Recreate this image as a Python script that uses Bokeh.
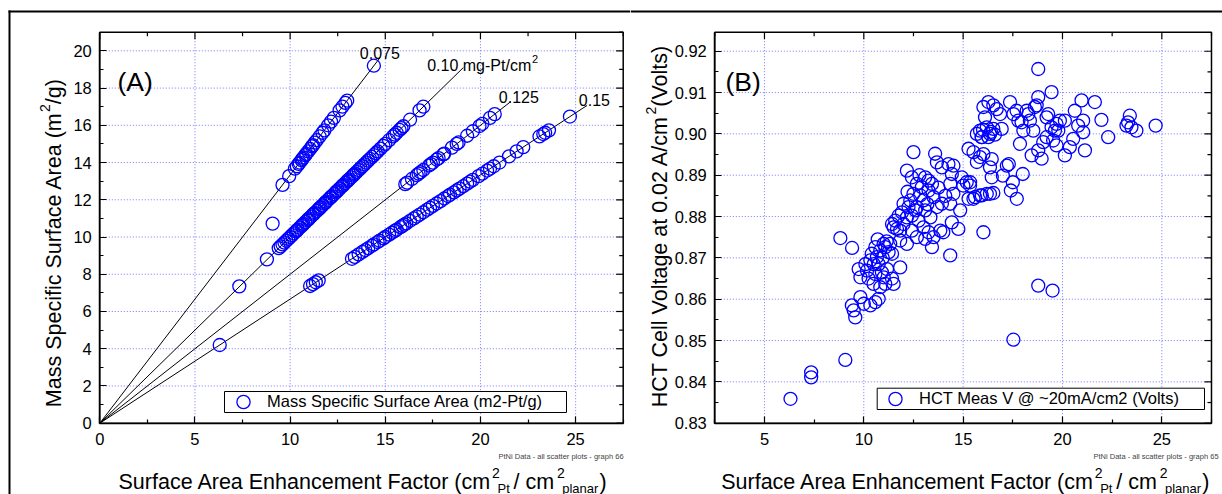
import math
from bokeh.plotting import figure
from bokeh.models import (FixedTicker, LinearAxis, Label, BoxAnnotation, Legend,
                          LegendItem, Range1d, NumeralTickFormatter)
from bokeh.layouts import row
from bokeh.embed import file_html
from bokeh.resources import INLINE

# ---------------- data: panel A (mass specific surface area vs SEF) -------------
sef_a_075 = [9.6, 9.95, 10.25, 10.35, 10.45, 10.5, 10.6, 10.65, 10.7, 10.8, 10.85, 10.95,
             11.05, 11.15, 11.2, 11.3, 11.4, 11.55, 11.7, 11.8, 12.0, 12.15, 12.3, 12.6,
             12.75, 12.9, 13.0, 14.4]
msa_a_075 = [12.8, 13.27, 13.67, 13.8, 13.93, 14.0, 14.13, 14.2, 14.27, 14.4, 14.47, 14.6,
             14.73, 14.87, 14.93, 15.07, 15.2, 15.4, 15.6, 15.73, 16.0, 16.2, 16.4, 16.8,
             17.0, 17.2, 17.33, 19.2]
sef_a_other = [9.08]
msa_a_other = [10.72]
sef_a_100 = [7.33, 8.78, 9.4, 9.5, 9.6, 9.7, 9.8, 9.9, 10.0, 10.1, 10.2, 10.3, 10.35, 10.4,
             10.5, 10.6, 10.65, 10.7, 10.8, 10.9, 10.95, 11.0, 11.1, 11.2, 11.25, 11.3, 11.4,
             11.5, 11.55, 11.6, 11.7, 11.8, 11.85, 11.9, 12.0, 12.1, 12.15, 12.2, 12.3, 12.4,
             12.45, 12.5, 12.6, 12.7, 12.75, 12.8, 12.9, 13.0, 13.05, 13.1, 13.2, 13.3, 13.35,
             13.4, 13.5, 13.6, 13.7, 13.8, 13.9, 14.0, 14.1, 14.2, 14.3, 14.4, 14.5, 14.6,
             14.75, 14.9, 15.0, 15.2, 15.4, 15.5, 15.6, 15.75, 15.85, 15.95, 16.3, 16.8, 17.0]
msa_a_100 = [7.35, 8.8, 9.4, 9.5, 9.6, 9.7, 9.8, 9.9, 10.0, 10.1, 10.2, 10.3, 10.35, 10.4,
             10.5, 10.6, 10.65, 10.7, 10.8, 10.9, 10.95, 11.0, 11.1, 11.2, 11.25, 11.3, 11.4,
             11.5, 11.55, 11.6, 11.7, 11.8, 11.85, 11.9, 12.0, 12.1, 12.15, 12.2, 12.3, 12.4,
             12.45, 12.5, 12.6, 12.7, 12.75, 12.8, 12.9, 13.0, 13.05, 13.1, 13.2, 13.3, 13.35,
             13.4, 13.5, 13.6, 13.7, 13.8, 13.9, 14.0, 14.1, 14.2, 14.3, 14.4, 14.5, 14.6,
             14.75, 14.9, 15.0, 15.2, 15.4, 15.5, 15.6, 15.75, 15.85, 15.95, 16.3, 16.8, 17.0]
sef_a_125 = [16.05, 16.15, 16.4, 16.65, 16.75, 16.85, 17.0, 17.3, 17.4, 17.5, 17.7, 17.8,
             18.05, 18.1, 18.5, 18.75, 18.85, 19.3, 19.6, 19.95, 20.1, 20.5, 20.75]
msa_a_125 = [12.84, 12.92, 13.12, 13.32, 13.4, 13.48, 13.6, 13.84, 13.92, 14.0, 14.16, 14.24,
             14.44, 14.48, 14.8, 15.0, 15.08, 15.44, 15.68, 15.96, 16.08, 16.4, 16.6]
sef_a_150 = [6.3, 11.05, 11.2, 11.35, 11.5, 13.25, 13.4, 13.6, 13.8, 13.95, 14.1, 14.3, 14.4,
             14.6, 14.7, 14.9, 15.0, 15.2, 15.35, 15.5, 15.6, 15.8, 15.9, 16.0, 16.1, 16.3,
             16.5, 16.65, 16.8, 17.0, 17.2, 17.35, 17.5, 17.7, 17.9, 18.1, 18.3, 18.4, 18.6,
             18.75, 18.9, 19.1, 19.3, 19.45, 19.6, 19.9, 20.1, 20.35, 20.5, 20.7, 21.0, 21.5,
             21.9, 22.25, 23.1, 23.3, 23.4, 23.6, 24.7]
msa_a_150 = [4.2, 7.37, 7.47, 7.57, 7.67, 8.83, 8.93, 9.07, 9.2, 9.3, 9.4, 9.53, 9.6, 9.73,
             9.8, 9.93, 10.0, 10.13, 10.23, 10.33, 10.4, 10.53, 10.6, 10.67, 10.73, 10.87,
             11.0, 11.1, 11.2, 11.33, 11.47, 11.57, 11.67, 11.8, 11.93, 12.07, 12.2, 12.27,
             12.4, 12.5, 12.6, 12.73, 12.87, 12.97, 13.07, 13.27, 13.4, 13.57, 13.67, 13.8,
             14.0, 14.33, 14.6, 14.83, 15.4, 15.53, 15.6, 15.73, 16.47]

# loading guide lines (mg-Pt/cm2) and where each drawn line ends (SEF)
loadings = [0.075, 0.10, 0.125, 0.15]
line_end_sef = [14.73, 19.1, 21.6, 25.6]

# ---------------- data: panel B (HCT voltage vs SEF) ----------------------------
sef_b = [6.31, 7.35, 7.35, 9.07, 8.82, 9.41, 9.40, 9.57, 9.49,
         9.83, 10.00, 10.33, 10.58, 10.75, 9.83, 9.74, 10.16, 10.08, 10.33, 10.24, 10.58,
         10.49, 10.83, 11.00, 11.08, 11.50, 11.42, 11.17, 10.75, 10.66, 10.58, 10.83, 11.08,
         11.25, 11.42, 11.00, 11.33, 11.83, 10.50, 10.91, 10.40, 10.95, 11.15, 10.70,
         11.42, 11.67, 11.58, 11.83, 11.83, 12.17, 12.00, 11.92, 12.00, 12.25, 12.42, 12.34,
         12.50, 12.67, 12.76, 13.00, 12.67, 13.09, 13.43, 13.26, 13.51, 13.85, 14.00, 13.35,
         13.09, 13.00, 12.84, 13.26, 13.51, 13.68, 13.93, 13.43, 13.09, 13.26, 12.92, 12.67,
         12.42, 12.17, 12.50, 13.59, 13.68, 13.93, 14.26, 14.51, 14.43, 14.35, 14.51, 14.35,
         14.43, 14.76, 14.35, 14.85, 14.93, 15.18, 15.35, 15.27, 15.52, 15.69, 15.85, 15.52,
         15.85, 16.19, 16.02, 15.85, 15.94, 16.02, 16.10, 16.19, 15.69, 16.27, 12.17, 11.75,
         11.50, 12.42, 12.20, 12.60, 12.80, 13.20, 13.75, 14.10, 15.01, 15.35, 15.27, 15.60,
         15.94, 16.35,
         16.52, 16.44, 16.35, 16.44, 16.02, 16.35, 16.52, 16.52, 16.69, 16.86, 16.94, 17.36,
         17.53, 17.78, 17.86, 18.03, 18.28, 18.36, 18.53, 18.61, 18.78, 18.78, 18.70, 18.45,
         18.95, 18.78, 19.03, 19.20, 19.28, 19.45, 19.53, 19.62, 19.70, 19.87, 19.70, 20.12,
         20.12, 20.37, 20.54, 20.62, 20.79, 20.96, 21.04, 21.04, 21.13, 21.63, 21.96, 22.30,
         23.22, 23.39, 23.30, 23.47, 23.72, 24.69, 17.20, 17.30, 17.00, 17.40, 17.70, 17.50,
         18.00, 18.78, 19.50, 17.53, 15.93, 16.27, 17.69, 17.94, 18.20, 19.20, 19.45, 19.79,
         16.00, 16.40, 16.60]
volt_b = [0.8359, 0.8423, 0.8411, 0.8453, 0.8748, 0.8724, 0.8585, 0.8556, 0.8573,
          0.8605, 0.8589, 0.8585, 0.8593, 0.8601, 0.8653, 0.8673, 0.8669, 0.8685, 0.8694,
          0.8650, 0.8661, 0.8637, 0.8629, 0.8653, 0.8637, 0.8637, 0.8650, 0.8673, 0.8685,
          0.8702, 0.8726, 0.8718, 0.8726, 0.8714, 0.8710, 0.8734, 0.8734, 0.8677, 0.8685,
          0.8665, 0.8710, 0.8700, 0.8740, 0.8745,
          0.8782, 0.8770, 0.8790, 0.8766, 0.8742, 0.8734, 0.8782, 0.8810, 0.8831, 0.8823,
          0.8802, 0.8839, 0.8855, 0.8823, 0.8790, 0.8774, 0.8750, 0.8746, 0.8726, 0.8762,
          0.8750, 0.8766, 0.8762, 0.8798, 0.8815, 0.8839, 0.8851, 0.8863, 0.8847, 0.8823,
          0.8831, 0.8879, 0.8895, 0.8887, 0.8871, 0.8879, 0.8895, 0.8911, 0.8956, 0.8952,
          0.8931, 0.8919, 0.8927, 0.8923, 0.8903, 0.8879, 0.8855, 0.8831, 0.8786, 0.8770,
          0.8706, 0.8815, 0.8895, 0.8883, 0.8875, 0.8964, 0.8956, 0.8932, 0.8944, 0.8843,
          0.8851, 0.8855, 0.8762, 0.9008, 0.8992, 0.9065, 0.9040, 0.9016, 0.9000, 0.9077,
          0.8798, 0.8802, 0.8774, 0.8766, 0.8860, 0.8815, 0.8900, 0.8830, 0.8870, 0.8850,
          0.8875, 0.8883, 0.8843, 0.8847, 0.8851, 0.8855,
          0.8857, 0.8895, 0.8919, 0.8939, 0.8951, 0.9000, 0.9012, 0.9069, 0.9060, 0.9048,
          0.9012, 0.9077, 0.9048, 0.9032, 0.8976, 0.9008, 0.9048, 0.9032, 0.9008, 0.9065,
          0.9089, 0.9157, 0.9069, 0.8948, 0.8940, 0.8960, 0.8980, 0.8992, 0.9048, 0.9101,
          0.8984, 0.9008, 0.9024, 0.9032, 0.8972, 0.8948, 0.9032, 0.8968, 0.8988, 0.9056,
          0.9020, 0.9081, 0.9032, 0.9004, 0.8960, 0.9077, 0.9034, 0.8992, 0.9020, 0.9044,
          0.9028, 0.9016, 0.9008, 0.9020, 0.8923, 0.8927, 0.8899, 0.8863, 0.8843, 0.8883,
          0.8903, 0.8633, 0.8621, 0.8502, 0.8992, 0.8992, 0.9056, 0.9028, 0.9056, 0.9040,
          0.9016, 0.9008, 0.9010, 0.9005, 0.8998]

xticks_a = [0, 5, 10, 15, 20, 25]
xminor_a = [2.5, 7.5, 12.5, 17.5, 22.5, 27.5]
yticks_a = [0, 2, 4, 6, 8, 10, 12, 14, 16, 18, 20]
yminor_a = [1, 3, 5, 7, 9, 11, 13, 15, 17, 19, 21]
xticks_b = [5, 10, 15, 20, 25]
xminor_b = [2.5, 7.5, 12.5, 17.5, 22.5, 27.5]
yticks_b = [0.83, 0.84, 0.85, 0.86, 0.87, 0.88, 0.89, 0.90, 0.91, 0.92]
yminor_b = [0.835, 0.845, 0.855, 0.865, 0.875, 0.885, 0.895, 0.905, 0.915]

FONT = "Liberation Sans"
BLUE = "#0000ff"
GRIDC = "#5555ff"
H = 494


def make_panel(width, xr, yr, box_x, box_y, xt, xm, yt, ym, yfmt=None):
    """Figure whose frame fills the canvas; the plot box sits inside it."""
    p = figure(width=width, height=H, output_backend="svg", toolbar_location=None,
               x_range=Range1d(*xr), y_range=Range1d(*yr),
               x_axis_type=None, y_axis_type=None, min_border=0,
               background_fill_color="white", border_fill_color="white",
               outline_line_color=None)
    x0, x1 = box_x
    y0, y1 = box_y
    # grid (dotted blue) at the major ticks
    gx = [t for t in xt if x0 < t < x1]
    gy = [t for t in yt if y0 < t < y1]
    p.segment(x0=gx, y0=[y0] * len(gx), x1=gx, y1=[y1] * len(gx),
              line_color=GRIDC, line_alpha=0.8, line_dash="1 2", line_width=1)
    p.segment(x0=[x0] * len(gy), y0=gy, x1=[x1] * len(gy), y1=gy,
              line_color=GRIDC, line_alpha=0.8, line_dash="1 2", line_width=1)
    # real axes fixed onto the plot box
    xax = LinearAxis(fixed_location=y0, bounds=(x0, x1),
                     ticker=FixedTicker(ticks=xt, minor_ticks=xm))
    yax = LinearAxis(fixed_location=x0, bounds=(y0, y1),
                     ticker=FixedTicker(ticks=yt, minor_ticks=ym))
    if yfmt:
        yax.formatter = yfmt
    for ax in (xax, yax):
        ax.axis_line_color = "black"
        ax.axis_line_width = 1.5
        ax.major_tick_in = 7
        ax.major_tick_out = 0
        ax.minor_tick_in = 4
        ax.minor_tick_out = 0
        ax.major_tick_line_color = "black"
        ax.minor_tick_line_color = "black"
        ax.major_tick_line_width = 1.2
        ax.minor_tick_line_width = 1.2
        ax.major_label_text_font = FONT
        ax.major_label_text_font_size = "16.5px"
        ax.major_label_text_color = "black"
    xax.major_label_standoff = 10
    yax.major_label_standoff = 8
    p.add_layout(xax, "below")
    p.add_layout(yax, "left")
    # mirrored inward ticks on the top and right edges
    p.ray(x=[t for t in xt if x0 <= t <= x1], y=y1, length=7, length_units="screen",
          angle=-math.pi / 2, line_color="black", line_width=1.2)
    p.ray(x=[t for t in xm if x0 <= t <= x1], y=y1, length=4, length_units="screen",
          angle=-math.pi / 2, line_color="black", line_width=1.2)
    p.ray(x=x1, y=[t for t in yt if y0 <= t <= y1], length=7, length_units="screen",
          angle=math.pi, line_color="black", line_width=1.2)
    p.ray(x=x1, y=[t for t in ym if y0 <= t <= y1], length=4, length_units="screen",
          angle=math.pi, line_color="black", line_width=1.2)
    return p


def plot_box(p, box_x, box_y):
    p.add_layout(BoxAnnotation(left=box_x[0], right=box_x[1], bottom=box_y[0],
                               top=box_y[1], fill_alpha=0, line_color="black",
                               line_width=1.5, line_alpha=1, editable=False))


def txt(p, x, y, s, size, angle=0.0, color="black"):
    p.add_layout(Label(x=x, y=y, x_units="canvas", y_units="canvas", text=s,
                       text_font=FONT, text_font_size=f"{size}px", angle=angle,
                       text_align="left", text_baseline="alphabetic", text_color=color))


def box(p, l, r, t, b, fill="black", line=None):
    p.add_layout(BoxAnnotation(left=l, right=r, top=t, bottom=b,
                               left_units="canvas", right_units="canvas",
                               top_units="canvas", bottom_units="canvas",
                               fill_color=fill, fill_alpha=1.0,
                               line_color=line if line else None, line_width=1,
                               line_alpha=1.0 if line else 0.0, editable=False))


def xlabel(p, x0):
    txt(p, x0, 481, "Surface Area Enhancement Factor (cm", 21.5)
    txt(p, x0 + 373.5, 472.5, "2", 14)
    txt(p, x0 + 379, 487.5, "Pt", 13)
    txt(p, x0 + 395, 481, "/ cm", 21.5)
    txt(p, x0 + 438.5, 472.5, "2", 14)
    txt(p, x0 + 443.7, 487.5, "planar", 13)
    txt(p, x0 + 481, 481, ")", 21.5)


def legend(p, r, label, loc, lw):
    lg = Legend(items=[LegendItem(label=label, renderers=[r])], location=loc,
                glyph_width=34, glyph_height=33, padding=0, margin=0, spacing=0,
                label_standoff=7, label_width=lw, label_height=20,
                border_line_alpha=0, background_fill_alpha=0,
                label_text_font=FONT, label_text_font_size="16.5px",
                label_text_color="black")
    p.add_layout(lg, "center")


# ---------------- panel A -------------------------------------------------------
boxA_x, boxA_y = (0, 27.5), (0, 21)
pA = make_panel(630, (-5.217, 27.883), (-3.829, 22.703), boxA_x, boxA_y,
                xticks_a, xminor_a, yticks_a, yminor_a)

for L, xe in zip(loadings, line_end_sef):
    pA.segment(x0=0, y0=0, x1=xe, y1=xe * 0.1 / L, line_color="black", line_width=1)

sef_a = sef_a_075 + sef_a_other + sef_a_100 + sef_a_125 + sef_a_150
msa_a = msa_a_075 + msa_a_other + msa_a_100 + msa_a_125 + msa_a_150
rA = pA.scatter(sef_a, msa_a, marker="circle", size=13, fill_color=None,
                line_color=BLUE, line_width=1.3)
plot_box(pA, boxA_x, boxA_y)

box(pA, 8, 630, 10, 12)
box(pA, 8, 10, 10, H)
box(pA, 224, 566, 391, 412, fill="white", line="black")
legend(pA, rA, "Mass Specific Surface Area (m2-Pt/g)", (226, 76), 297)

txt(pA, 117, 81, "(A)", 26.5)
txt(pA, 359.3, 52.3, "0.075", 16)
txt(pA, 426.7, 65, "0.10 mg-Pt/cm", 16)
txt(pA, 531.5, 58, "2", 11)
txt(pA, 498.3, 96.7, "0.125", 16)
txt(pA, 578.3, 99, "0.15", 16)

txt(pA, 53.3, 406.7, "Mass Specific Surface Area (m", 21.5, math.pi / 2)
txt(pA, 44.3, 111.6, "2", 14, math.pi / 2)
txt(pA, 53.3, 103.8, "/g)", 21.5, math.pi / 2)
xlabel(pA, 118)
txt(pA, 498, 455.5, "PtNi Data - all scatter plots - graph 66", 7.5, color="#444444")

# ---------------- panel B -------------------------------------------------------
boxB_x, boxB_y = (2.5, 27.5), (0.83, 0.9246)
pB = make_panel(592, (-1.743, 28.054), (0.812749, 0.932274), boxB_x, boxB_y,
                xticks_b, xminor_b, yticks_b, yminor_b, NumeralTickFormatter(format="0.00"))

rB = pB.scatter(sef_b, volt_b, marker="circle", size=13, fill_color=None,
                line_color=BLUE, line_width=1.3)
plot_box(pB, boxB_x, boxB_y)

box(pB, 0, 592, 10, 12)
box(pB, 246.7, 574, 387.7, 409, fill="white", line="black")
legend(pB, rB, "HCT Meas V @ ~20mA/cm2 (Volts)", (248, 79), 282)

txt(pB, 95, 81, "(B)", 26.5)
txt(pB, 29.3, 406.7, "HCT Cell Voltage at 0.02 A/cm", 21.5, math.pi / 2)
txt(pB, 20.3, 114, "2", 14, math.pi / 2)
txt(pB, 29.3, 106.2, " (Volts)", 21.5, math.pi / 2)
xlabel(pB, 90.7)
txt(pB, 463, 455.5, "PtNi Data - all scatter plots - graph 65", 7.5, color="#444444")

layout = row(pA, pB)
open("out.html", "w").write(file_html(layout, INLINE))
